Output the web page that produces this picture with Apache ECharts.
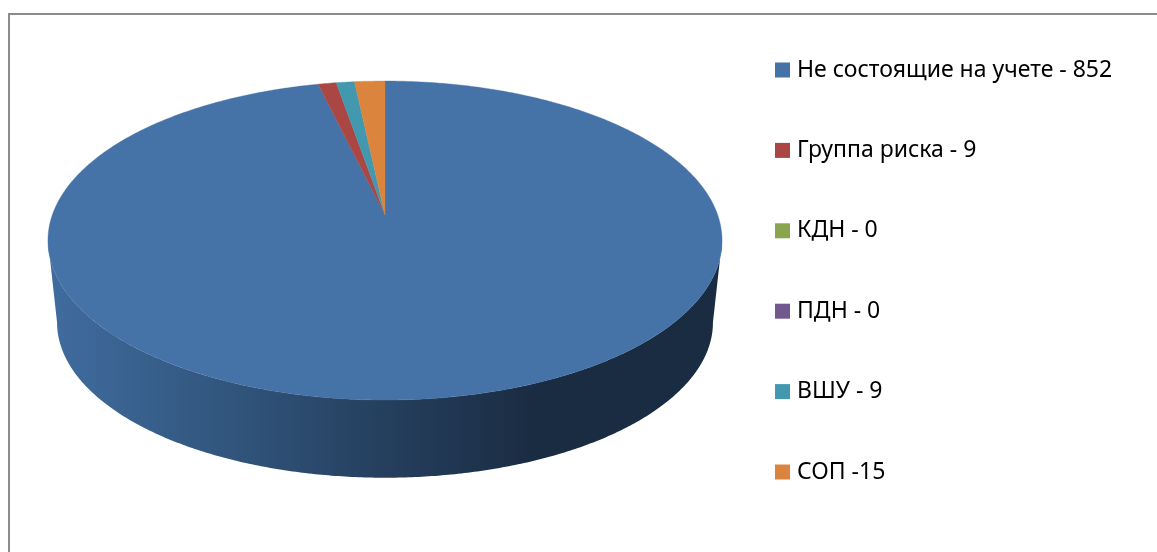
<!DOCTYPE html>
<html>
<head>
<meta charset="utf-8">
<style>
    html, body { margin: 0; padding: 0; background: #ffffff; }
    #chart { width: 1157px; height: 552px; }
</style>
<script src="https://cdn.jsdelivr.net/npm/echarts@6/dist/echarts.min.js"></script>
</head>
<body>
<div id="chart"></div>
<script>
let categories = ['Не состоящие на учете - 852', 'Группа риска - 9', 'КДН - 0', 'ПДН - 0', 'ВШУ - 9', 'СОП -15']
let values = [852, 9, 0, 0, 9, 15]
let colors = ['#4572A7', '#AA4643', '#89A54E', '#71588F', '#4198AF', '#DB843D']

// pie is a tilted disc: circle -> perspective projection onto the page
let cx = 385, cy = 215      // centre of the disc as projected
let ax = 332.7, ay = 155.4  // radii before perspective
let persp = 0.16            // far edge smaller than near edge
let baseScale = 0.973, baseShift = 82  // lower rim of the disc
let midY = 241              // y of the widest line of the top rim
let total = values.reduce((a, b) => a + b, 0)

let rimTop = (deg) => {
    let t = deg * Math.PI / 180
    let w = 1 + persp * Math.cos(t)
    return [cx + ax * Math.sin(t) / w, cy - ay * Math.cos(t) / w]
}
let rimBottom = (deg) => {
    let p = rimTop(deg)
    return [cx + baseScale * (p[0] - cx), midY + baseShift + baseScale * (p[1] - midY)]
}
let arcPoints = (fn, from, to) => {
    let pts = []
    let steps = Math.max(2, Math.ceil(Math.abs(to - from) / 0.5))
    for (let i = 0; i <= steps; i++) {
        pts.push(fn(from + (to - from) * i / steps))
    }
    return pts
}

// silhouette of the side wall, where the rim is widest
let sideFrom = Math.acos(-persp) * 180 / Math.PI
let sideTo = 360 - sideFrom
let sideFill = {
    type: 'linear', x: 48, y: 0, x2: 722, y2: 0, global: true,
    colorStops: [
        { offset: 0, color: '#406c9f' },
        { offset: 0.25, color: '#32577f' },
        { offset: 0.5, color: '#253f5e' },
        { offset: 0.72, color: '#1a2c42' },
        { offset: 1, color: '#1a2c42' }
    ]
}

let renderSlice = (index) => (params, api) => {
    let value = values[index]
    if (value === 0) {
        return null
    }
    let before = values.slice(0, index).reduce((a, b) => a + b, 0)
    let from = before / total * 360
    let to = (before + value) / total * 360
    let children = []

    let a = Math.max(from, sideFrom), b = Math.min(to, sideTo)
    if (b > a) {
        let wall = arcPoints(rimTop, a, b).concat(arcPoints(rimBottom, b, a))
        children.push({
            type: 'polygon',
            shape: { points: wall },
            style: { fill: sideFill, stroke: null }
        })
    }
    let top = [[cx, cy]].concat(arcPoints(rimTop, from, to))
    children.push({
        type: 'polygon',
        shape: { points: top },
        style: { fill: colors[index], stroke: colors[index], lineWidth: 0.4 }
    })
    return { type: 'group', children: children }
}

let series = categories.map((name, i) => ({
    name: name,
    type: 'custom',
    coordinateSystem: 'none',
    silent: true,
    animation: false,
    itemStyle: { color: colors[i] },
    data: [[values[i]]],
    renderItem: renderSlice(i)
}))

let options = {
    animation: false,
    backgroundColor: '#ffffff',
    color: colors,
    legend: {
        orient: 'vertical',
        left: 770,
        top: 53.5,
        itemWidth: 15,
        itemHeight: 15,
        itemGap: 57.4,
        icon: 'rect',
        selectedMode: false,
        data: categories,
        textStyle: {
            fontFamily: 'Noto Sans',
            fontSize: 23,
            color: '#000000',
            padding: [0, 0, 0, 2]
        }
    },
    graphic: [{
        type: 'polyline',
        silent: true,
        shape: { points: [[9, 552], [9, 14], [1157, 14]] },
        style: { stroke: '#8c8c8c', lineWidth: 2, fill: null }
    }],
    series: series
}

let mychart = echarts.init(document.getElementById('chart'), null, { renderer: 'canvas' })
mychart.setOption(options)
</script>
</body>
</html>
